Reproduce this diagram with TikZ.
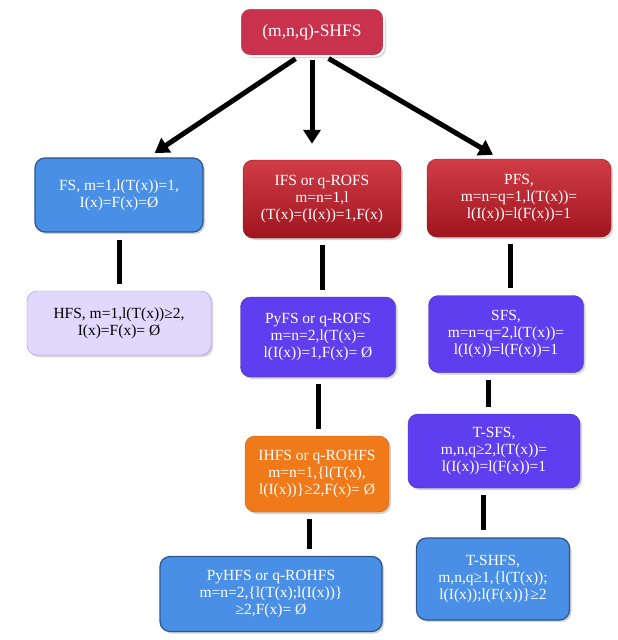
\documentclass[tikz,border=0pt]{standalone}
\usepackage{fontspec}
\setmainfont{Liberation Serif}
\usetikzlibrary{arrows.meta,shadows}

\definecolor{topred}{HTML}{C8324C}
\definecolor{setred}{HTML}{C81A26}
\definecolor{setblue}{HTML}{4A8FE6}
\definecolor{setpurple}{HTML}{5E3EEE}
\definecolor{setorange}{HTML}{F07A1A}
\definecolor{setlilac}{HTML}{E2D8FC}

\begin{document}
\begin{tikzpicture}[x=1pt,y=-1pt,
    setbox/.style={rounded corners=10pt,align=center,text=white,inner sep=2pt,
      font=\fontsize{15.5}{17}\selectfont,drop shadow={opacity=0.35,shadow xshift=2pt,shadow yshift=-2pt}},
    redbox/.style={setbox,top color=setred!85!white,bottom color=setred!80!black,draw=setred!70!black},
    bluebox/.style={setbox,fill=setblue,draw=setblue!60!black,line width=1.2pt},
    purplebox/.style={setbox,fill=setpurple,draw=setpurple!70!black},
    link/.style={line width=5pt,shorten <=7pt,shorten >=7pt},
    arr/.style={line width=5pt,-{Triangle[width=17pt,length=14pt]}}]
    \useasboundingbox (0,0) rectangle (618,640);

    % root
    \node[setbox,fill=topred,draw=white,line width=2pt,minimum width=144pt,minimum height=48pt,
      font=\fontsize{17.5}{20}\selectfont] (shfs) at (312,32) {(m,n,q)-SHFS};

    % first row
    \node[bluebox,minimum width=168pt,minimum height=74pt] (fs) at (119,195)
      {FS, m=1,l(T(x))=1,\\I(x)=F(x)=Ø};
    \node[redbox,minimum width=158pt,minimum height=78pt] (ifs) at (322,199)
      {IFS or q-ROFS\\m=n=1,l\\(T(x)=(I(x))=1,F(x)};
    \node[redbox,minimum width=184pt,minimum height=78pt] (pfs) at (519,198)
      {PFS,\\m=n=q=1,l(T(x))=\\l(I(x))=l(F(x))=1};

    % second row
    \node[setbox,text=black,fill=setlilac,draw=setpurple!60,minimum width=184pt,minimum height=64pt]
      (hfs) at (119,323) {HFS, m=1,l(T(x))≥2,\\I(x)=F(x)= Ø};
    \node[purplebox,minimum width=155pt,minimum height=80pt] (pyfs) at (318,337)
      {PyFS or q-ROFS\\m=n=2,l(T(x)=\\l(I(x))=1,F(x)= Ø};
    \node[purplebox,minimum width=155pt,minimum height=77pt] (sfs) at (506,334)
      {SFS,\\m=n=q=2,l(T(x))=\\l(I(x))=l(F(x))=1};

    % third row
    \node[setbox,fill=setorange,draw=setorange!80!black,minimum width=144pt,minimum height=76pt]
      (ihfs) at (317,474) {IHFS or q-ROHFS\\m=n=1,\{l(T(x),\\l(I(x))\}≥2,F(x)= Ø};
    \node[purplebox,minimum width=172pt,minimum height=74pt] (tsfs) at (494,451)
      {T-SFS,\\m,n,q≥2,l(T(x))=\\l(I(x))=l(F(x))=1};

    % last row
    \node[bluebox,minimum width=222pt,minimum height=75pt] (pyhfs) at (271,594)
      {PyHFS or q-ROHFS\\m=n=2,\{l(T(x);l(I(x))\}\\≥2,F(x)= Ø};
    \node[bluebox,minimum width=153pt,minimum height=82pt] (tshfs) at (493,579)
      {T-SHFS,\\m,n,q≥1,\{l(T(x));\\l(I(x));l(F(x))\}≥2};

    % arrows from the root
    \draw[arr,shorten <=3pt,shorten >=8pt] ([xshift=-14pt]shfs.south) -- ([xshift=29pt]fs.north);
    \draw[arr,shorten <=3pt,shorten >=16pt] (shfs.south) -- (shfs.south |- ifs.north);
    \draw[arr,shorten <=3pt,shorten >=8pt] ([xshift=14pt]shfs.south) -- ([xshift=-19pt]pfs.north);

    % links
    \draw[link] (fs.south) -- (fs.south |- hfs.north);
    \draw[link] (ifs.south) -- (ifs.south |- pyfs.north);
    \draw[link] (pyfs.south) -- (pyfs.south |- ihfs.north);
    \draw[link] ([xshift=-8pt]ihfs.south) -- ([xshift=-8pt]ihfs.south |- pyhfs.north);
    \draw[link] ([xshift=-9pt]pfs.south) -- ([xshift=-9pt]pfs.south |- sfs.north);
    \draw[link] ([xshift=-18pt]sfs.south) -- ([xshift=-18pt]sfs.south |- tsfs.north);
    \draw[link] ([xshift=-11pt]tsfs.south) -- ([xshift=-11pt]tsfs.south |- tshfs.north);
  \end{tikzpicture}
\end{document}
